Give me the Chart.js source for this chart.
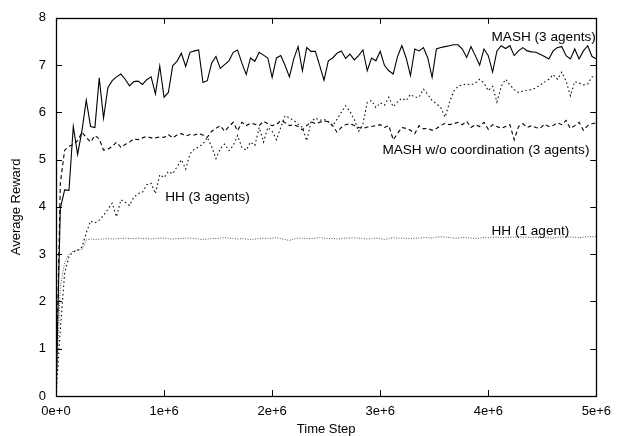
<!DOCTYPE html>
<html>
<head>
<meta charset="utf-8">
<script src="https://cdn.jsdelivr.net/npm/chart.js@4.4.0/dist/chart.umd.min.js"></script>
<style>
  body { margin: 0; background: #fff; }
  #wrap { width: 619px; height: 436px; }
</style>
</head>
<body>
<div id="wrap"><canvas id="rewardChart" width="619" height="436"></canvas></div>
<script>
// time steps, in units of 1e4
const timeStepsE4 = [
  0, 4, 8, 12, 16, 20, 24, 28, 32, 36, 40, 44, 48, 52, 56, 60, 64, 68, 72, 76,
  80, 84, 88, 92, 96, 100, 104, 108, 112, 116, 120, 124, 128, 132, 136, 140, 144, 148, 152, 156,
  160, 164, 168, 172, 176, 180, 184, 188, 192, 196, 200, 204, 208, 212, 216, 220, 224, 228, 232, 236,
  240, 244, 248, 252, 256, 260, 264, 268, 272, 276, 280, 284, 288, 292, 296, 300, 304, 308, 312, 316,
  320, 324, 328, 332, 336, 340, 344, 348, 352, 356, 360, 364, 368, 372, 376, 380, 384, 388, 392, 396,
  400, 404, 408, 412, 416, 420, 424, 428, 432, 436, 440, 444, 448, 452, 456, 460, 464, 468, 472, 476,
  480, 484, 488, 492, 496, 500
];

const mash3 = [
  0, 3.97, 4.36, 4.35, 5.70, 5.11, 5.61, 6.26, 5.70, 5.68,
  6.73, 5.88, 6.52, 6.67, 6.75, 6.81, 6.70, 6.56, 6.65, 6.66,
  6.59, 6.69, 6.75, 6.39, 6.98, 6.32, 6.42, 6.99, 7.08, 7.25,
  6.97, 7.27, 7.30, 7.32, 6.63, 6.67, 7.04, 7.18, 6.93, 7.01,
  7.09, 7.27, 7.32, 7.04, 6.80, 7.15, 7.08, 7.27, 7.21, 7.15,
  6.74, 7.15, 7.20, 6.99, 6.75, 7.13, 7.39, 6.88, 7.37, 7.29,
  7.29, 6.99, 6.68, 7.09, 7.15, 7.25, 7.30, 7.14, 7.23, 7.11,
  7.20, 7.32, 6.88, 7.15, 7.09, 7.29, 6.99, 6.88, 6.81, 7.18,
  7.41, 7.15, 6.78, 7.34, 7.30, 7.37, 7.15, 6.74, 7.34, 7.37,
  7.39, 7.41, 7.43, 7.43, 7.34, 7.16, 7.39, 7.20, 7.00, 7.34,
  7.20, 6.85, 7.30, 7.41, 7.35, 7.41, 7.20, 7.30, 7.37, 7.30,
  7.28, 7.27, 7.23, 7.18, 7.13, 7.30, 7.37, 7.39, 7.20, 7.13,
  7.34, 7.13, 7.30, 7.41, 7.18, 7.13
];

const mashNoCoord = [
  0, 4.50, 5.20, 5.28, 5.32, 5.40, 5.58, 5.47, 5.37, 5.51,
  5.44, 5.20, 5.22, 5.28, 5.37, 5.26, 5.32, 5.37, 5.44, 5.42,
  5.46, 5.49, 5.46, 5.46, 5.48, 5.47, 5.53, 5.46, 5.52, 5.55,
  5.50, 5.53, 5.52, 5.55, 5.52, 5.47, 5.60, 5.66, 5.72, 5.60,
  5.70, 5.79, 5.61, 5.79, 5.72, 5.77, 5.75, 5.72, 5.81, 5.76,
  5.72, 5.74, 5.83, 5.78, 5.72, 5.74, 5.70, 5.63, 5.72, 5.80,
  5.76, 5.79, 5.82, 5.80, 5.72, 5.58, 5.68, 5.74, 5.76, 5.72,
  5.68, 5.66, 5.69, 5.70, 5.72, 5.74, 5.68, 5.72, 5.42, 5.55,
  5.68, 5.66, 5.62, 5.55, 5.72, 5.65, 5.66, 5.62, 5.66, 5.72,
  5.77, 5.74, 5.76, 5.79, 5.74, 5.81, 5.68, 5.74, 5.70, 5.79,
  5.64, 5.74, 5.70, 5.66, 5.70, 5.74, 5.42, 5.70, 5.76, 5.68,
  5.72, 5.68, 5.66, 5.75, 5.70, 5.72, 5.78, 5.74, 5.83, 5.66,
  5.72, 5.79, 5.62, 5.72, 5.76, 5.78
];

const hh3 = [
  0, 1.40, 2.60, 2.95, 3.05, 3.08, 3.15, 3.45, 3.70, 3.66,
  3.72, 3.82, 3.95, 4.08, 3.79, 4.15, 4.10, 4.03, 4.21, 4.28,
  4.31, 4.47, 4.50, 4.28, 4.68, 4.62, 4.75, 4.70, 4.85, 5.00,
  4.80, 5.12, 5.22, 5.27, 5.33, 5.47, 5.28, 5.02, 5.23, 5.33,
  5.19, 5.30, 5.51, 5.26, 5.20, 5.37, 5.30, 5.68, 5.37, 5.68,
  5.60, 5.42, 5.68, 5.93, 5.88, 5.83, 5.75, 5.68, 5.40, 5.80,
  5.88, 5.83, 5.85, 5.80, 5.72, 5.85, 6.00, 6.14, 6.02, 5.85,
  5.60, 5.75, 6.21, 6.25, 6.10, 6.20, 6.15, 6.32, 6.12, 6.22,
  6.30, 6.25, 6.38, 6.32, 6.32, 6.49, 6.38, 6.25, 6.18, 6.10,
  5.90, 6.20, 6.45, 6.55, 6.58, 6.60, 6.58, 6.62, 6.70, 6.62,
  6.46, 6.55, 6.22, 6.55, 6.70, 6.58, 6.48, 6.42, 6.45, 6.47,
  6.48, 6.52, 6.58, 6.64, 6.70, 6.80, 6.70, 6.85, 6.66, 6.35,
  6.65, 6.62, 6.58, 6.60, 6.75, 6.76
];

const hh1 = [
  0, 2.30, 2.82, 3.00, 3.07, 3.09, 3.10, 3.30, 3.32, 3.31,
  3.32, 3.32, 3.33, 3.32, 3.33, 3.33, 3.34, 3.33, 3.33, 3.34,
  3.33, 3.33, 3.32, 3.33, 3.34, 3.34, 3.33, 3.32, 3.33, 3.33,
  3.34, 3.34, 3.33, 3.32, 3.31, 3.32, 3.33, 3.33, 3.34, 3.35,
  3.34, 3.33, 3.32, 3.33, 3.32, 3.31, 3.32, 3.33, 3.34, 3.33,
  3.34, 3.35, 3.33, 3.31, 3.29, 3.32, 3.34, 3.34, 3.33, 3.33,
  3.34, 3.35, 3.34, 3.33, 3.33, 3.32, 3.33, 3.34, 3.34, 3.35,
  3.34, 3.33, 3.32, 3.33, 3.34, 3.33, 3.31, 3.33, 3.35, 3.34,
  3.34, 3.33, 3.33, 3.34, 3.34, 3.35, 3.35, 3.34, 3.36, 3.37,
  3.36, 3.35, 3.34, 3.34, 3.35, 3.35, 3.34, 3.33, 3.34, 3.35,
  3.35, 3.36, 3.36, 3.35, 3.35, 3.36, 3.36, 3.37, 3.36, 3.36,
  3.35, 3.36, 3.35, 3.36, 3.35, 3.34, 3.36, 3.36, 3.37, 3.36,
  3.36, 3.35, 3.36, 3.37, 3.37, 3.37
];

const xTicks = [0, 1e6, 2e6, 3e6, 4e6, 5e6];
const xTickLabels = ["0e+0", "1e+6", "2e+6", "3e+6", "4e+6", "5e+6"];
const yTicks = [0, 1, 2, 3, 4, 5, 6, 7, 8];

const seriesLabels = [
  { text: "MASH (3 agents)", x: 4.03e6, y: 7.59 },
  { text: "MASH w/o coordination (3 agents)", x: 3.02e6, y: 5.19 },
  { text: "HH (3 agents)", x: 1.01e6, y: 4.2 },
  { text: "HH (1 agent)", x: 4.03e6, y: 3.48 }
];

const FONT = "'Liberation Sans', Arial, Helvetica, sans-serif";

function points(values) {
  return values.map((v, i) => ({ x: timeStepsE4[i] * 1e4, y: v }));
}

// gnuplot style frame: box with ticks pointing inward on all sides + line labels
const framePlugin = {
  id: "frame",
  afterDraw(chart) {
    const { ctx, chartArea: a, scales } = chart;
    ctx.save();
    ctx.strokeStyle = "#000";
    ctx.lineWidth = 1;
    ctx.beginPath();
    xTicks.forEach((t) => {
      const px = Math.round(scales.x.getPixelForValue(t)) + 0.5;
      ctx.moveTo(px, a.bottom); ctx.lineTo(px, a.bottom - 6);
      ctx.moveTo(px, a.top); ctx.lineTo(px, a.top + 6);
    });
    yTicks.forEach((t) => {
      const py = Math.round(scales.y.getPixelForValue(t)) + 0.5;
      ctx.moveTo(a.left, py); ctx.lineTo(a.left + 6, py);
      ctx.moveTo(a.right, py); ctx.lineTo(a.right - 6, py);
    });
    ctx.stroke();
    ctx.lineWidth = 1.3;
    ctx.strokeRect(Math.round(a.left) + 0.5, Math.round(a.top) + 0.5,
      Math.round(a.right - a.left), Math.round(a.bottom - a.top));

    ctx.fillStyle = "#000";
    ctx.font = "13.6px " + FONT;
    ctx.textAlign = "left";
    ctx.textBaseline = "middle";
    seriesLabels.forEach((l) => {
      ctx.fillText(l.text, scales.x.getPixelForValue(l.x), scales.y.getPixelForValue(l.y));
    });
    ctx.restore();
  }
};

function renderChart() {
  const ctx = document.getElementById("rewardChart");
  new Chart(ctx, {
    type: "line",
    data: {
      datasets: [
        { label: "MASH (3 agents)", data: points(mash3), borderColor: "#000", borderWidth: 1.1 },
        { label: "MASH w/o coordination (3 agents)", data: points(mashNoCoord), borderColor: "#000", borderWidth: 1.1, borderDash: [4, 3] },
        { label: "HH (3 agents)", data: points(hh3), borderColor: "#111", borderWidth: 1.1, borderDash: [1.6, 2.6] },
        { label: "HH (1 agent)", data: points(hh1), borderColor: "#555", borderWidth: 1, borderDash: [1, 1.5] }
      ]
    },
    options: {
      responsive: false,
      animation: false,
      events: [],
      layout: { padding: { top: 17, right: 17, left: 0, bottom: 0 } },
      elements: { point: { radius: 0 }, line: { tension: 0 } },
      plugins: { legend: { display: false }, tooltip: { enabled: false } },
      scales: {
        x: {
          type: "linear",
          min: 0,
          max: 5e6,
          afterFit(scale) { scale.height = 40; },
          afterBuildTicks(scale) { scale.ticks = xTicks.map((v) => ({ value: v })); },
          ticks: {
            padding: 8,
            maxRotation: 0,
            color: "#000",
            font: { family: FONT, size: 13 },
            callback: (v) => xTickLabels[xTicks.indexOf(v)]
          },
          grid: { display: false, drawTicks: false },
          border: { display: false },
          title: { display: true, text: "Time Step", color: "#000", font: { family: FONT, size: 13 }, padding: { top: 0, bottom: -1 } }
        },
        y: {
          min: 0,
          max: 8,
          afterFit(scale) { scale.width = 56; },
          afterBuildTicks(scale) { scale.ticks = yTicks.map((v) => ({ value: v })); },
          ticks: { padding: 10, color: "#000", font: { family: FONT, size: 13 } },
          grid: { display: false, drawTicks: false },
          border: { display: false },
          title: { display: true, text: "Average Reward", color: "#000", font: { family: FONT, size: 13 }, padding: { top: 9, bottom: 0 } }
        }
      }
    },
    plugins: [framePlugin]
  });
}

document.addEventListener("DOMContentLoaded", renderChart);
</script>
</body>
</html>
